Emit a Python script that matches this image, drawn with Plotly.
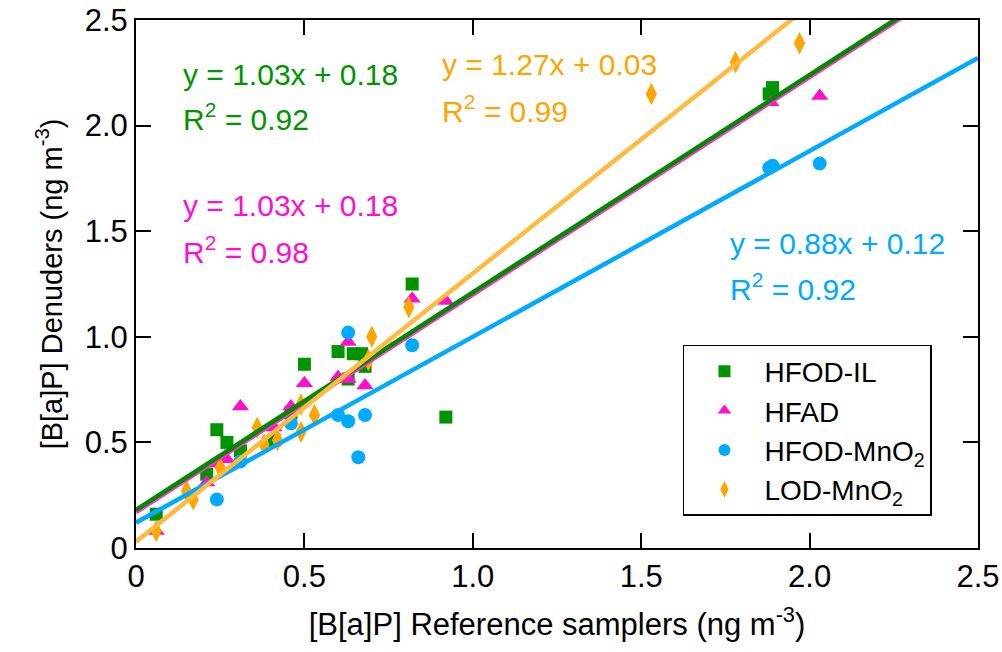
import plotly.graph_objects as go

# ---- data ----
hfod_il_x = [0.06, 0.21, 0.24, 0.27, 0.31, 0.41, 0.46, 0.50, 0.60, 0.63, 0.645, 0.67, 0.68, 0.82, 0.92, 1.88, 1.89]
hfod_il_y = [0.16, 0.35, 0.56, 0.50, 0.46, 0.51, 0.64, 0.87, 0.93, 0.80, 0.92, 0.92, 0.86, 1.25, 0.62, 2.15, 2.18]

hfad_x = [0.06, 0.21, 0.24, 0.27, 0.31, 0.41, 0.46, 0.50, 0.60, 0.63, 0.63, 0.68, 0.82, 0.92, 1.885, 2.03]
hfad_y = [0.08, 0.31, 0.40, 0.42, 0.67, 0.57, 0.67, 0.78, 0.81, 0.975, 0.80, 0.77, 1.18, 1.17, 2.11, 2.14]

mno2_x = [0.24, 0.31, 0.46, 0.60, 0.63, 0.63, 0.66, 0.68, 0.82, 1.88, 1.89, 2.03]
mno2_y = [0.23, 0.41, 0.59, 0.63, 0.60, 1.02, 0.43, 0.63, 0.96, 1.80, 1.81, 1.82]

lod_x = [0.06, 0.15, 0.17, 0.25, 0.36, 0.38, 0.42, 0.49, 0.49, 0.53, 0.69, 0.70, 0.81, 1.53, 1.78, 1.97]
lod_y = [0.08, 0.27, 0.23, 0.38, 0.57, 0.49, 0.51, 0.55, 0.68, 0.63, 0.89, 1.00, 1.14, 2.15, 2.30, 2.39]

# linear fits (slope, intercept) as printed on the chart
fit_names = ["HFOD-IL", "HFAD", "HFOD-MnO2", "LOD-MnO2"]
fit_slopes = [1.03, 1.03, 0.88, 1.27]
fit_intercepts = [0.18, 0.17, 0.12, 0.03]
fit_r2 = [0.92, 0.98, 0.92, 0.99]
fit_labels_intercept = [0.18, 0.18, 0.12, 0.03]

tick_vals = [0, 0.5, 1.0, 1.5, 2.0, 2.5]
tick_text = ["0", "0.5", "1.0", "1.5", "2.0", "2.5"]

GREEN = "#009400"
GREEN_LINE = "#008A00"
MAGENTA = "#FF0FCB"
MAGENTA_LINE = "#FF33CC"
BLUE = "#00AAFF"
BLUE_LINE = "#00AAFF"
ORANGE = "#FFA500"
ORANGE_LINE = "#FFBA40"

FONT = "Liberation Sans, Arial, sans-serif"

fig = go.Figure()

fig.add_trace(go.Scatter(x=hfod_il_x, y=hfod_il_y, mode="markers", name="HFOD-IL",
                         marker=dict(symbol="square", size=13, color=GREEN)))
fig.add_trace(go.Scatter(x=hfad_x, y=hfad_y, mode="markers", name="HFAD",
                         marker=dict(symbol="triangle-up", size=15, color=MAGENTA)))
fig.add_trace(go.Scatter(x=mno2_x, y=mno2_y, mode="markers", name="HFOD-MnO<sub>2</sub>",
                         marker=dict(symbol="circle", size=14, color=BLUE)))
fig.add_trace(go.Scatter(x=lod_x, y=lod_y, mode="markers", name="LOD-MnO<sub>2</sub>",
                         marker=dict(symbol="diamond-tall", size=16, color=ORANGE)))

line_colors = [GREEN_LINE, MAGENTA_LINE, BLUE_LINE, ORANGE_LINE]
order = [2, 1, 0, 3]
for i in order:
    xs = [0, 2.5]
    ys = [fit_intercepts[i] + fit_slopes[i] * v for v in xs]
    fig.add_trace(go.Scatter(x=xs, y=ys, mode="lines", showlegend=False,
                             line=dict(color=line_colors[i], width=4.5), hoverinfo="skip"))

# equation annotations
ann_pos = [(0.133, 2.24, 2.04), (0.133, 1.62, 1.41), (1.758, 1.444, 1.236), (0.903, 2.29, 2.08)]
text_colors = [GREEN, MAGENTA, BLUE, ORANGE]
for i in range(4):
    xa, ya1, ya2 = ann_pos[i]
    fig.add_annotation(x=xa, y=ya1, xref="x", yref="y", xanchor="left", yanchor="middle",
                       text=f"y = {fit_slopes[i]:.2f}x + {fit_labels_intercept[i]:.2f}", showarrow=False,
                       font=dict(family=FONT, size=30, color=text_colors[i]))
    fig.add_annotation(x=xa, y=ya2, xref="x", yref="y", xanchor="left", yanchor="middle",
                       text=f"R<sup>2</sup> = {fit_r2[i]:.2f}", showarrow=False,
                       font=dict(family=FONT, size=30, color=text_colors[i]))

fig.update_layout(
    width=1002, height=652,
    margin=dict(l=136, r=24, t=20, b=104),
    paper_bgcolor="white", plot_bgcolor="white",
    font=dict(family=FONT, size=30, color="black"),
    showlegend=True,
    legend=dict(x=0.6496, y=0.3845, xanchor="left", yanchor="top",
                bgcolor="white", bordercolor="black", borderwidth=1.5,
                font=dict(family=FONT, size=28, color="black"),
                itemsizing="constant", itemwidth=70, tracegroupgap=0),
)

fig.update_xaxes(range=[0, 2.5], tickvals=tick_vals, ticktext=tick_text,
                 ticks="inside", ticklen=15, tickwidth=2, tickcolor="black",
                 showline=True, linecolor="black", linewidth=2, mirror="ticks",
                 showgrid=False, zeroline=False, automargin=False,
                 ticklabeloverflow="allow",
                 tickfont=dict(family=FONT, size=31, color="black"),
                 title=dict(text="[B[a]P] Reference samplers (ng m<sup>-3</sup>)",
                            font=dict(family=FONT, size=31, color="black"), standoff=20))
fig.update_yaxes(range=[0, 2.5], tickvals=tick_vals, ticktext=tick_text,
                 ticks="inside", ticklen=15, tickwidth=2, tickcolor="black",
                 showline=True, linecolor="black", linewidth=2, mirror="ticks",
                 showgrid=False, zeroline=False, automargin=False,
                 ticklabeloverflow="allow",
                 tickfont=dict(family=FONT, size=31, color="black"),
                 title=dict(text="[B[a]P] Denuders (ng m<sup>-3</sup>)",
                            font=dict(family=FONT, size=29, color="black"), standoff=14))

# remove the default page margin so the figure fills the window exactly
fig.write_html("out.html", config={"displayModeBar": False},
               post_script="document.body.style.margin='0';")
